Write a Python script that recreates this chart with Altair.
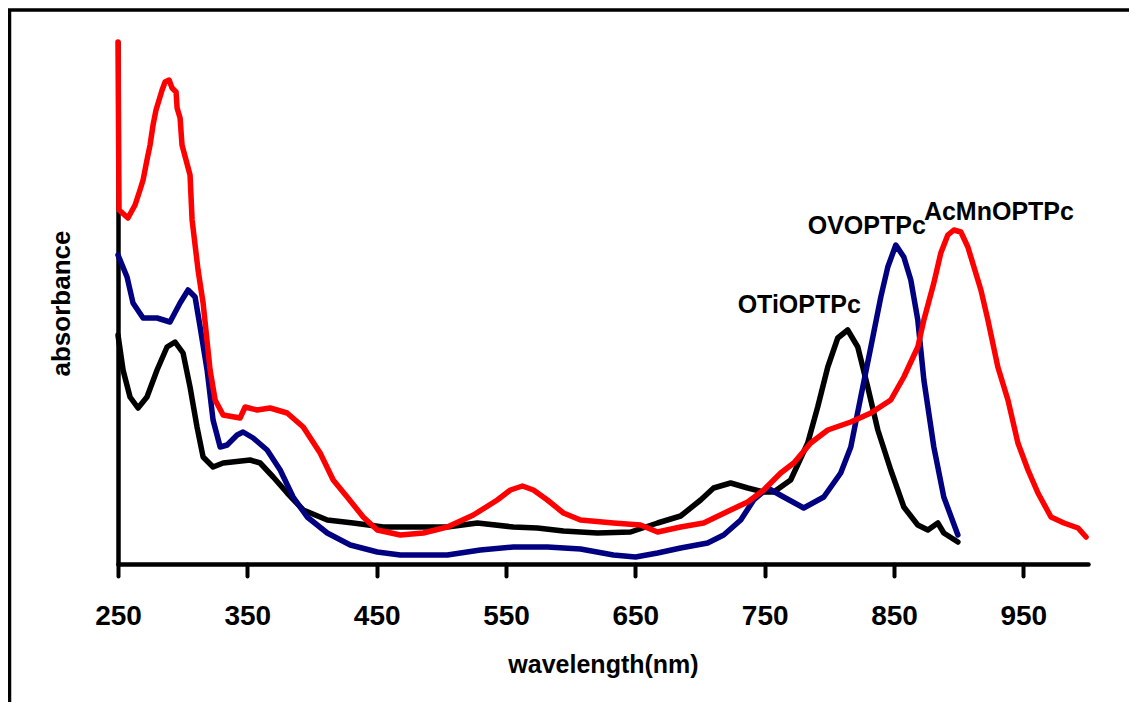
import altair as alt
import pandas as pd

FONT = "Liberation Sans"

x_ticks = [250, 350, 450, 550, 650, 750, 850, 950]

# OTiOPTPc (black)
black_wl = [250, 253.9, 259.3, 265.5, 272.4, 280.2, 287.9, 294.1, 300.3, 305.7, 311.1, 315.8,
            323.5, 331.3, 352.2, 359.9, 370, 380.8, 393.2, 411.8, 431.9, 455.1, 478.3, 504.6,
            527.9, 555.7, 574.3, 594.4, 620.7, 646.3, 667.2, 685, 700.5, 710.5, 723.7, 736.9,
            749.3, 757, 770.1, 783.3, 791, 798.8, 806.5, 814.2, 822, 829.7, 837.5, 847.5,
            857.6, 868.4, 876.2, 883.9, 888.5, 899.4]
black_ab = [2.29, 1.94, 1.67, 1.56, 1.67, 1.94, 2.17, 2.22, 2.11, 1.77, 1.37, 1.07,
            0.97, 1.01, 1.04, 1.01, 0.87, 0.71, 0.54, 0.44, 0.41, 0.37, 0.37, 0.37,
            0.41, 0.37, 0.36, 0.33, 0.31, 0.32, 0.41, 0.48, 0.64, 0.76, 0.81, 0.76,
            0.72, 0.72, 0.84, 1.21, 1.57, 1.97, 2.26, 2.34, 2.17, 1.77, 1.34, 0.94,
            0.57, 0.39, 0.34, 0.41, 0.31, 0.22]

# OVOPTPc (blue)
blue_wl = [250, 257, 261.6, 269.4, 280.2, 290.2, 298, 304.2, 309.6, 313.5, 318.9, 323.5,
           329, 334.4, 342.1, 346.7, 354.5, 365.3, 375.4, 385.4, 396.3, 411.8, 429.6, 450.5,
           468.3, 504.6, 530.2, 555.7, 582, 607.6, 633.1, 650.2, 667.2, 685, 705.9, 718.3,
           731.5, 741.5, 752.3, 764.7, 780.2, 795.7, 808.8, 816.6, 824.3, 832.1, 839.8,
           845.2, 851.4, 857.6, 863, 868.4, 873.1, 880.8, 888.5, 899.4]
blue_ab = [3.09, 2.87, 2.61, 2.46, 2.46, 2.42, 2.61, 2.74, 2.67, 2.37, 1.94, 1.44,
           1.17, 1.19, 1.29, 1.32, 1.26, 1.14, 0.94, 0.67, 0.47, 0.31, 0.19, 0.12,
           0.09, 0.09, 0.14, 0.17, 0.17, 0.15, 0.09, 0.07, 0.11, 0.16, 0.21, 0.29,
           0.44, 0.64, 0.76, 0.67, 0.56, 0.67, 0.91, 1.17, 1.67, 2.17, 2.67,
           2.97, 3.19, 3.07, 2.84, 2.44, 1.84, 1.17, 0.67, 0.29]

# AcMnOPTPc (red)
red_wl = [250, 250.8, 257.7, 263.2, 267, 269.4, 272.4, 274.8, 277.1, 279.4, 284.1, 286.4,
          289.5, 291.8, 294.9, 295.7, 298, 299.5, 302.6, 305.7, 307.3, 311.9, 315.8, 321.2,
          325.1, 331.3, 344.4, 348.3, 357.6, 367.6, 380.8, 393.2, 406.3, 416.4, 427.2,
          439.6, 450.5, 468.3, 486.1, 504.6, 524.8, 543.3, 553.4, 562.7, 571.2, 582, 594.4,
          607.6, 633.1, 654, 667.2, 685, 702.8, 723.7, 736.9, 749.3, 762.4, 772.5, 785.6,
          798.8, 816.6, 832.1, 847.5, 857.6, 868.4, 873.1, 880.8, 886.2, 891.6, 896.3,
          901.7, 907.1, 911.8, 917.2, 922.6, 930.3, 938.1, 945.8, 953.6, 961.3, 971.4,
          981.4, 992.3, 998.5]
red_ab = [5.22, 3.54, 3.46, 3.59, 3.74, 3.84, 4.04, 4.19, 4.39, 4.54, 4.74, 4.82,
          4.84, 4.76, 4.72, 4.56, 4.46, 4.19, 4.04, 3.89, 3.44, 2.94, 2.61, 1.94,
          1.64, 1.49, 1.46, 1.57, 1.54, 1.56, 1.51, 1.37, 1.11, 0.84, 0.67,
          0.47, 0.34, 0.29, 0.31, 0.37, 0.49, 0.64, 0.74, 0.78, 0.74, 0.64, 0.51,
          0.44, 0.41, 0.39, 0.32, 0.37, 0.41, 0.54, 0.62, 0.74, 0.91, 1.01, 1.21,
          1.34, 1.42, 1.51, 1.64, 1.87, 2.17, 2.44, 2.81, 3.11, 3.29, 3.34,
          3.32, 3.17, 2.97, 2.74, 2.44, 1.97, 1.64, 1.21, 0.94, 0.71, 0.47,
          0.41, 0.36, 0.27]

series_names = ["OTiOPTPc", "OVOPTPc", "AcMnOPTPc"]
series_colors = ["#000000", "#000080", "#FF0000"]

# curve label anchors (wavelength, absorbance)
label_text = ["OTiOPTPc", "OVOPTPc", "AcMnOPTPc"]
label_wl = [729.1, 783.3, 873.1]
label_ab = [2.51, 3.30, 3.44]

rows = []
for name, wl, ab in zip(series_names, [black_wl, blue_wl, red_wl], [black_ab, blue_ab, red_ab]):
    for i, (w, a) in enumerate(zip(wl, ab)):
        rows.append({"series": name, "wavelength": w, "absorbance": a, "idx": i})
df = pd.DataFrame(rows)
labels_df = pd.DataFrame({"label": label_text, "wavelength": label_wl, "absorbance": label_ab})

x_scale = alt.Scale(domain=[250, 1000], nice=False, zero=False)
y_scale = alt.Scale(domain=[0, 5.22], nice=False, zero=True)

x_axis = alt.Axis(values=x_ticks, title="wavelength(nm)", grid=False,
                  domainColor="black", domainWidth=4.5, domainCap="round",
                  tickColor="black", tickWidth=4, tickSize=12, tickCap="round",
                  labelFont=FONT, labelFontSize=28, labelFontWeight="bold",
                  labelColor="black", labelPadding=26, labelFlush=False,
                  labelOverlap=False,
                  titleFont=FONT, titleFontSize=25, titleFontWeight="bold",
                  titleColor="black", titlePadding=22)
y_axis = alt.Axis(title="absorbance", grid=False, ticks=False, labels=False,
                  domainColor="black", domainWidth=4.5, domainCap="round",
                  titleFont=FONT, titleFontSize=26, titleFontWeight="bold",
                  titleColor="black", titlePadding=44)

lines = alt.Chart(df).mark_line(strokeWidth=5.5, strokeJoin="round", strokeCap="round").encode(
    x=alt.X("wavelength:Q", scale=x_scale, axis=x_axis),
    y=alt.Y("absorbance:Q", scale=y_scale, axis=y_axis),
    color=alt.Color("series:N", scale=alt.Scale(domain=series_names, range=series_colors), legend=None),
    order="idx:Q",
)

texts = alt.Chart(labels_df).mark_text(align="left", baseline="alphabetic", font=FONT,
                                       fontSize=25, fontWeight="bold", color="black").encode(
    x=alt.X("wavelength:Q", scale=x_scale),
    y=alt.Y("absorbance:Q", scale=y_scale),
    text="label:N",
)

frame = alt.Chart(pd.DataFrame({"f": [0]})).mark_rect(filled=False, stroke="black", strokeWidth=3.5).encode(
    x=alt.value(-108.5), x2=alt.value(1100), y=alt.value(-32), y2=alt.value(760)
)

chart = alt.layer(frame, lines, texts).properties(
    width=970, height=522,
    background="white",
    autosize=alt.AutoSizeParams(type="none"),
    padding={"left": 110, "top": 34, "right": 41, "bottom": 138},
).configure_view(strokeWidth=0, stroke="transparent")

chart.save("out.html", embed_options={"renderer": "svg", "actions": False})
